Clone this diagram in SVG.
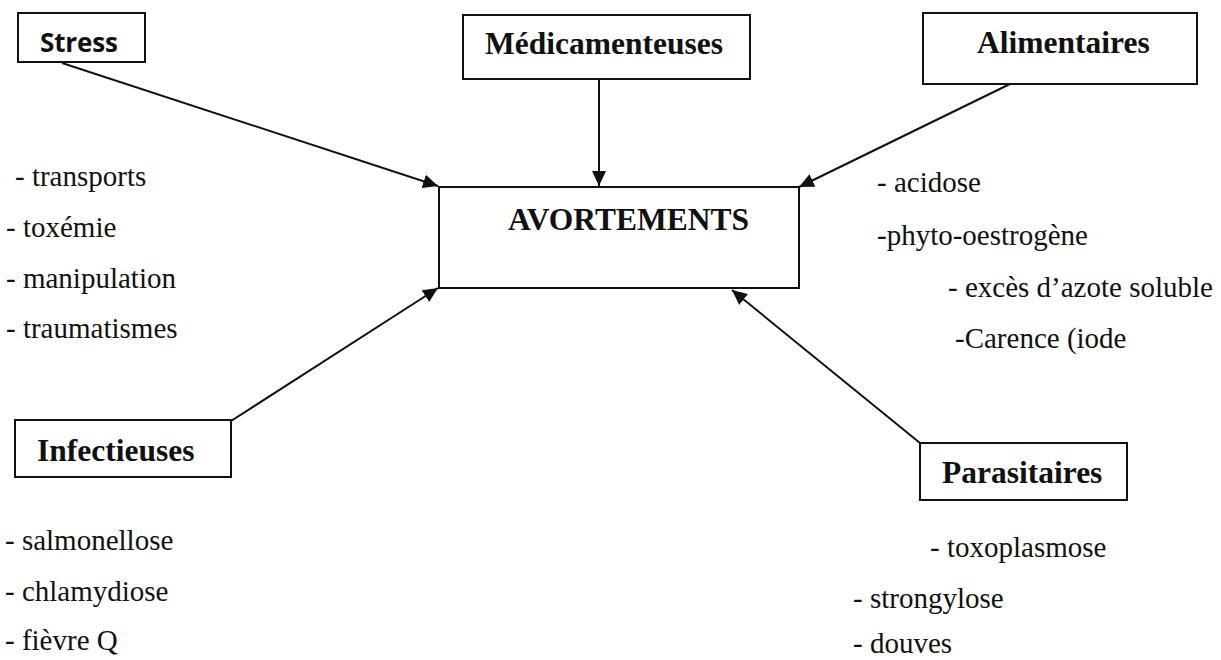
<svg xmlns="http://www.w3.org/2000/svg" width="1221" height="660" viewBox="0 0 1221 660">
<defs>
<marker id="arr" markerWidth="16" markerHeight="14" refX="15" refY="7" orient="auto" markerUnits="userSpaceOnUse">
<path d="M0,0 L15,7 L0,14 Z" fill="#111"/>
</marker>
<style>
.box{fill:#fff;stroke:#111;stroke-width:2}
.h{font-family:"Liberation Serif","Times New Roman",serif;font-weight:bold;font-size:31.5px;fill:#111}
.hs{font-family:"Open Sans","DejaVu Sans",sans-serif;font-weight:bold;font-size:26px;fill:#111}
.t{font-family:"Liberation Serif","Times New Roman",serif;font-size:29px;fill:#111}
.c{stroke:#111;stroke-width:2;fill:none;marker-end:url(#arr)}
</style>
</defs>
<rect width="1221" height="660" fill="#fff"/>
<g id="connectors">
<line class="c" x1="62" y1="63" x2="438" y2="186"/>
<line class="c" x1="599" y1="79" x2="599" y2="186"/>
<line class="c" x1="1010" y1="84" x2="799" y2="187"/>
<line class="c" x1="231" y1="421" x2="438" y2="288"/>
<line class="c" x1="920" y1="443" x2="732" y2="290"/>
</g>
<g id="stress">
<rect class="box" x="18" y="13" width="127" height="49"/>
<text class="hs" x="40" y="52" textLength="78">Stress</text>
</g>
<g id="medicamenteuses">
<rect class="box" x="463" y="15" width="287" height="64"/>
<text class="h" x="485" y="54">Médicamenteuses</text>
</g>
<g id="alimentaires">
<rect class="box" x="923" y="13" width="274" height="71"/>
<text class="h" x="977" y="53">Alimentaires</text>
</g>
<g id="avortements">
<rect class="box" x="439" y="187" width="360" height="101"/>
<text class="h" x="508" y="230">AVORTEMENTS</text>
</g>
<g id="infectieuses">
<rect class="box" x="15" y="420" width="216" height="57"/>
<text class="h" x="37" y="461">Infectieuses</text>
</g>
<g id="parasitaires">
<rect class="box" x="920" y="443" width="207" height="57"/>
<text class="h" x="942" y="483">Parasitaires</text>
</g>
<g id="stress-list" class="t" font-family="Liberation Serif">
<text x="15" y="186">- transports</text>
<text x="6" y="237">- toxémie</text>
<text x="6" y="288">- manipulation</text>
<text x="6" y="338">- traumatismes</text>
</g>
<g id="alimentaires-list" class="t" font-family="Liberation Serif">
<text x="877" y="192">- acidose</text>
<text x="877" y="245">-phyto-oestrogène</text>
<text x="948" y="297">- excès d’azote soluble</text>
<text x="955" y="348">-Carence (iode</text>
</g>
<g id="infectieuses-list" class="t" font-family="Liberation Serif">
<text x="5" y="550">- salmonellose</text>
<text x="5" y="601">- chlamydiose</text>
<text x="5" y="650">- fièvre Q</text>
</g>
<g id="parasitaires-list" class="t" font-family="Liberation Serif">
<text x="930" y="557">- toxoplasmose</text>
<text x="853" y="608">- strongylose</text>
<text x="853" y="653">- douves</text>
</g>
</svg>
